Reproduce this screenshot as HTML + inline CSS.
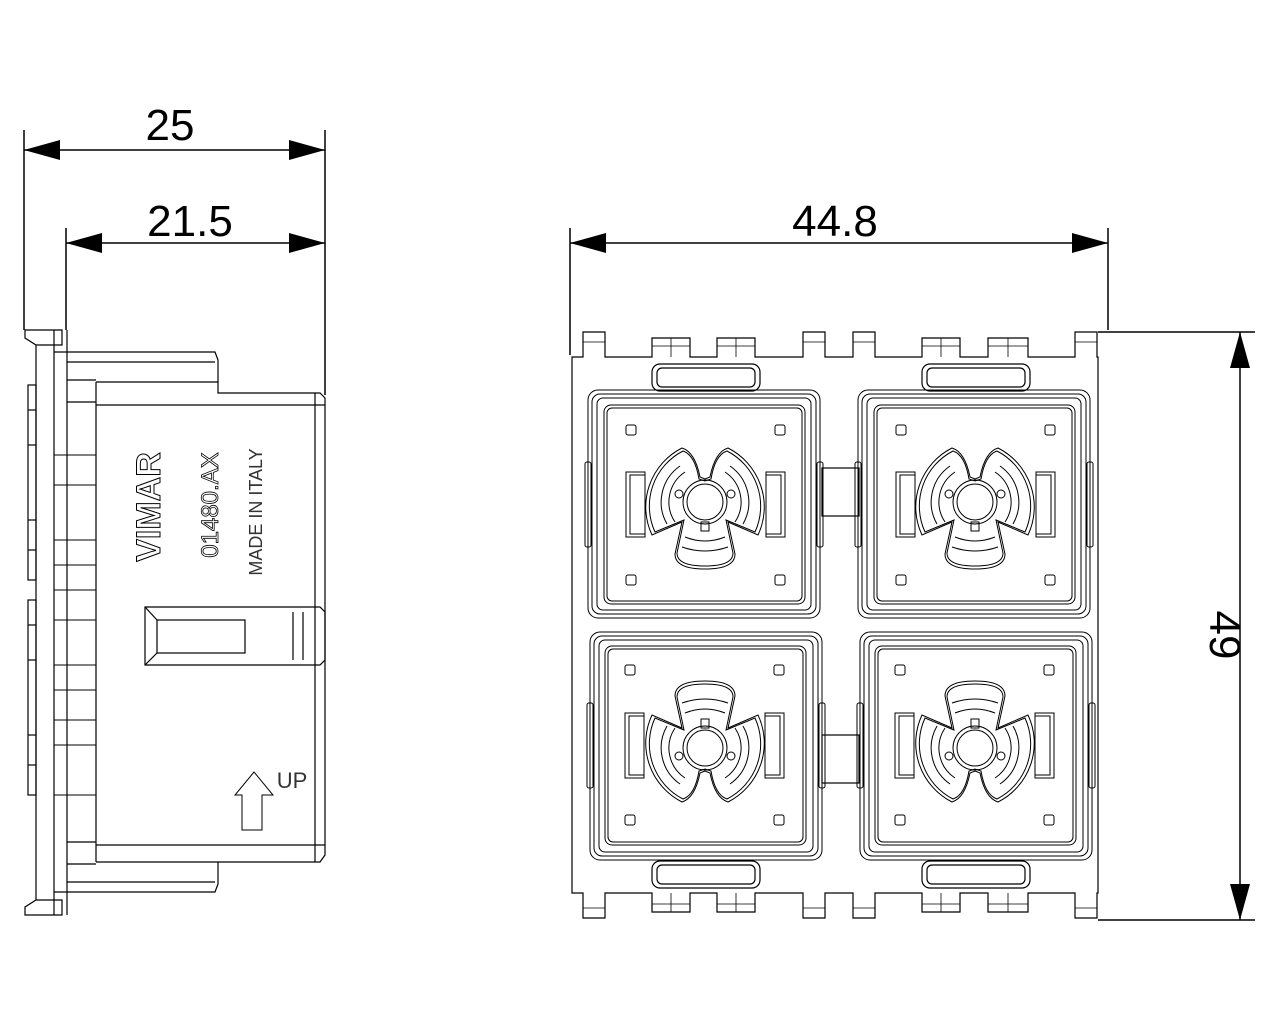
<!DOCTYPE html>
<html><head><meta charset="utf-8"><style>
html,body{margin:0;padding:0;background:#fff;}
svg{display:block;}
text{font-family:"Liberation Sans",sans-serif;}
</style></head><body>
<svg width="1280" height="1024" viewBox="0 0 1280 1024" xmlns="http://www.w3.org/2000/svg">
<defs>
<g id="cell" fill="none" stroke="#000" stroke-width="1">
  <rect x="-117" y="-112" width="232" height="228" rx="10"/>
  <rect x="-113" y="-108" width="224" height="220" rx="8"/>
  <rect x="-108" y="-104" width="214" height="212" rx="6"/>
  <rect x="-101" y="-97" width="201" height="199" rx="7"/>
  <rect x="-98" y="-94" width="195" height="193" rx="5"/>
  <rect x="-120" y="-40" width="6" height="85" rx="2"/>
  <rect x="112" y="-40" width="6" height="85" rx="2"/>
  <rect x="-79" y="-77" width="10" height="10" rx="2"/>
  <rect x="70" y="-77" width="10" height="10" rx="2"/>
  <rect x="-79" y="73" width="10" height="10" rx="2"/>
  <rect x="70" y="73" width="10" height="10" rx="2"/>
  <rect x="-79" y="-30" width="19" height="65"/>
  <rect x="-75" y="-27" width="15" height="59"/>
  <rect x="61" y="-30" width="19" height="65"/>
  <rect x="61" y="-27" width="15" height="59"/>
  <path d="M -23,20 L -53,33 A 66 66 0 0 1 -23,-54 Q -10,-50 -5,-25 L 0,-23 L 5,-25 Q 10,-50 23,-54 A 66 66 0 0 1 53,33 L 23,20 L 30,52 Q 30,67 0,67 Q -30,67 -30,52 Z"/>
  <path d="M -21,18 L -50,30 A 62 62 0 0 1 -22,-51 Q -10,-47 -6,-23 L 0,-21 L 6,-23 Q 10,-47 22,-51 A 62 62 0 0 1 50,30 L 21,18 L 28,51 Q 28,64 0,64 Q -28,64 -28,51 Z"/>
  <circle cx="0" cy="0" r="18"/>
  <circle cx="0" cy="0" r="22"/>
  <path d="M -30,20 A 36 36 0 0 1 -20,-30 M 30,20 A 36 36 0 0 0 20,-30 M -38,22 A 44 44 0 0 1 -25,-36 M 38,22 A 44 44 0 0 0 25,-36"/>
  <path d="M -20,35 Q 0,43 20,35 M -23,45 Q 0,53 23,45"/>
  <circle cx="-26" cy="-8" r="4"/><circle cx="26" cy="-8" r="4"/>
  <rect x="-4" y="20" width="8" height="9"/>
</g>
</defs>
<g stroke="#000" fill="none" stroke-width="1.5">
  <!-- side view dims -->
  <line x1="24" y1="130" x2="24" y2="330"/>
  <line x1="66" y1="228" x2="66" y2="330"/>
  <line x1="325" y1="130" x2="325" y2="395"/>
  <line x1="24" y1="150" x2="325" y2="150"/>
  <line x1="66" y1="243" x2="325" y2="243"/>
  <!-- front dims -->
  <line x1="570" y1="228" x2="570" y2="355"/>
  <line x1="1108" y1="228" x2="1108" y2="330"/>
  <line x1="570" y1="243" x2="1108" y2="243"/>
  <line x1="1098" y1="332" x2="1255" y2="332"/>
  <line x1="1098" y1="920" x2="1255" y2="920"/>
  <line x1="1240" y1="332" x2="1240" y2="920"/>
</g>
<g fill="#000">
  <polygon points="24,150 60,140 60,160"/>
  <polygon points="325,150 289,140 289,160"/>
  <polygon points="66,243 102,233 102,253"/>
  <polygon points="325,243 289,233 289,253"/>
  <polygon points="570,243 606,233 606,253"/>
  <polygon points="1108,243 1072,233 1072,253"/>
  <polygon points="1240,332 1230,368 1250,368"/>
  <polygon points="1240,920 1230,884 1250,884"/>
</g>
<g font-size="44" text-anchor="middle" fill="#000">
  <text x="170" y="140">25</text>
  <text x="190" y="236">21.5</text>
  <text x="835" y="236">44.8</text>
  <text transform="translate(1210,635) rotate(90)" >49</text>
</g>

<!-- side view -->
<g stroke="#000" fill="none" stroke-width="1.2">
  <path d="M25,330 L62,330 L62,345 L36,345 L25,338 Z"/>
  <path d="M25,915 L62,915 L62,900 L36,900 L25,907 Z"/>
  <line x1="36" y1="345" x2="36" y2="900"/>
  <line x1="54" y1="330" x2="54" y2="915"/>
  <line x1="67" y1="330" x2="67" y2="915"/>
  <rect x="28" y="385" width="8" height="195"/>
  <rect x="28" y="600" width="8" height="195"/>
  <line x1="28" y1="410" x2="36" y2="410"/><line x1="28" y1="445" x2="36" y2="445"/><line x1="28" y1="520" x2="36" y2="520"/><line x1="28" y1="550" x2="36" y2="550"/>
  <line x1="28" y1="625" x2="36" y2="625"/><line x1="28" y1="660" x2="36" y2="660"/><line x1="28" y1="735" x2="36" y2="735"/><line x1="28" y1="765" x2="36" y2="765"/>
  <path d="M54,352 L215,352 L218,360 L218,382"/>
  <path d="M54,892 L215,892 L218,884 L218,862"/>
  <line x1="67" y1="362" x2="215" y2="362"/>
  <line x1="67" y1="882" x2="215" y2="882"/>
  <path d="M67,380 L96,380 M67,402 L96,402 M67,864 L96,864 M67,842 L96,842"/>
  <path d="M96,382 L96,862 M96,382 L218,382 L218,393 L320,393 L325,398 L325,855 L320,862 L96,862"/>
  <line x1="96" y1="405" x2="325" y2="405"/>
  <line x1="96" y1="845" x2="325" y2="845"/>
  <line x1="315" y1="393" x2="315" y2="862"/>
  <g stroke-width="1">
  <line x1="54" y1="455" x2="96" y2="455"/><line x1="54" y1="485" x2="96" y2="485"/>
  <line x1="54" y1="540" x2="96" y2="540"/><line x1="54" y1="565" x2="96" y2="565"/>
  <line x1="54" y1="590" x2="96" y2="590"/><line x1="54" y1="620" x2="96" y2="620"/>
  <line x1="54" y1="665" x2="96" y2="665"/><line x1="54" y1="690" x2="96" y2="690"/>
  <line x1="54" y1="720" x2="96" y2="720"/><line x1="54" y1="745" x2="96" y2="745"/>
  <line x1="54" y1="795" x2="96" y2="795"/>
  </g>
  <path d="M145,607 L320,607 L325,612 L325,660 L320,665 L145,665 Z"/>
  <rect x="157" y="620" width="88" height="33"/>
  <line x1="145" y1="607" x2="157" y2="620"/><line x1="145" y1="665" x2="157" y2="653"/>
  <line x1="293" y1="612" x2="293" y2="660"/><line x1="303" y1="612" x2="303" y2="660"/>
  <path d="M242,830 L242,795 L235,795 L254,772 L273,795 L262,795 L262,830 Z" stroke-width="1"/>
</g>
<g fill="none" stroke="#000" stroke-width="1" font-size="34" font-weight="bold">
  <text transform="translate(160,507) rotate(-90)" text-anchor="middle">VIMAR</text>
</g>
<g fill="#000" font-size="24" text-anchor="middle">
  <text transform="translate(218,505) rotate(-90)" style="font-weight:normal" fill="none" stroke="#000" stroke-width="0.8">01480.AX</text>
  <text transform="translate(262,512) rotate(-90)" font-size="18" fill="#333">MADE IN ITALY</text>
  <text x="292" y="788" font-size="22" fill="#333">UP</text>
</g>

<!-- front view -->
<g stroke="#000" fill="none" stroke-width="1.2">
  <path d="M572,357 L583,357 L583,332 L605,332 L605,357 L652,357 L652,338 L690,338 L690,357 L717,357 L717,338 L755,338 L755,357 L803,357 L803,332 L825,332 L825,357 L853,357 L853,332 L875,332 L875,357 L922,357 L922,338 L960,338 L960,357 L988,357 L988,338 L1028,338 L1028,357 L1075,357 L1075,332 L1097,332 L1097,357 L1098,357 L1098,893 L1097,893 L1097,918 L1075,918 L1075,893 L1028,893 L1028,912 L988,912 L988,893 L960,893 L960,912 L922,912 L922,893 L875,893 L875,918 L853,918 L853,893 L825,893 L825,918 L803,918 L803,893 L755,893 L755,912 L717,912 L717,893 L690,893 L690,912 L652,912 L652,893 L605,893 L605,918 L583,918 L583,893 L572,893 Z"/>
  <g stroke-width="0.8">
  <path d="M583,342 L605,342 M652,346 L690,346 M671,338 L671,357 M717,346 L755,346 M736,338 L736,357 M803,342 L825,342 M853,342 L875,342 M922,346 L960,346 M941,338 L941,357 M988,346 L1028,346 M1008,338 L1008,357 M1075,342 L1097,342"/>
  <path d="M583,908 L605,908 M652,904 L690,904 M671,893 L671,912 M717,904 L755,904 M736,893 L736,912 M803,908 L825,908 M853,908 L875,908 M922,904 L960,904 M941,893 L941,912 M988,904 L1028,904 M1008,893 L1008,912 M1075,908 L1097,908"/>
  </g>
  <rect x="652" y="364" width="108" height="27" rx="8"/><rect x="657" y="368" width="98" height="19" rx="5"/>
  <rect x="922" y="364" width="108" height="27" rx="8"/><rect x="927" y="368" width="98" height="19" rx="5"/>
  <rect x="652" y="861" width="108" height="27" rx="8"/><rect x="657" y="865" width="98" height="19" rx="5"/>
  <rect x="922" y="861" width="108" height="27" rx="8"/><rect x="927" y="865" width="98" height="19" rx="5"/>
  <rect x="822" y="468" width="37" height="48"/>
  <rect x="822" y="735" width="37" height="48"/>
</g>
<use href="#cell" x="705" y="502"/>
<use href="#cell" x="975" y="502"/>
<g transform="translate(705,748) rotate(180)"><use href="#cell"/></g>
<g transform="translate(975,748) rotate(180)"><use href="#cell"/></g>
</svg>
</body></html>
